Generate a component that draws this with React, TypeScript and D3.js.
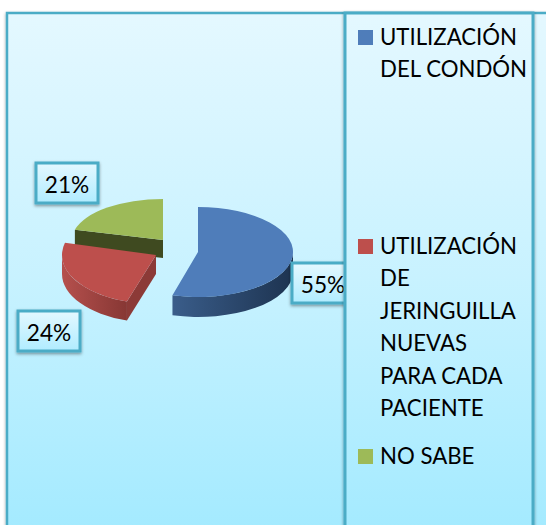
import React from "react";
import * as d3 from "d3";

const categories = ["UTILIZACIÓN DEL CONDÓN", "UTILIZACIÓN DE JERINGUILLA NUEVAS PARA CADA PACIENTE", "NO SABE"];
const values = [55, 24, 21];
const legendLines = [["UTILIZACIÓN", "DEL CONDÓN"], ["UTILIZACIÓN", "DE", "JERINGUILLA", "NUEVAS", "PARA CADA", "PACIENTE"], ["NO SABE"]];
const legendFirstBaselines = [45, 254, 464];
const topColors = ["#4f7dba", "#bd4f4c", "#9dba58"];
const wallFrom = ["#3a5d8a", "#b5504d", "#3f4a20"];
const wallTo = ["#1d3350", "#873734", "#3f4a20"];
const cutColors = ["#2b4769", "#8c3a37", "#3f4a20"];
// per-slice layout: apex position, radii, extrusion, perspective nudge of the lower cut
const sliceLayout = [
  { cx: 198, cy: 252, rx: 95, ry: 45, depth: 20, endNudge: -0.042 },
  { cx: 156, cy: 255, rx: 94, ry: 49, depth: 19, endNudge: 0 },
  { cx: 163, cy: 240, rx: 91, ry: 41, depth: 18, endNudge: 0 },
];
const labelBoxes = [
  { x: 292, y: 263, text: "55%" },
  { x: 18, y: 311, text: "24%" },
  { x: 36, y: 163, text: "21%" },
];

const FONT = "Lato, Carlito, sans-serif";
const TEXT_SQUEEZE = 0.945;
const BORDER = "#4bacc6";

export default function App() {
  const pieGen = d3.pie<number>().sort(null).startAngle(0).endAngle(2 * Math.PI);
  const arcs = pieGen(values);

  const ptOn = (i: number, a: number) => {
    const s = sliceLayout[i];
    return [s.cx + s.rx * Math.sin(a), s.cy - s.ry * Math.cos(a)];
  };
  const endOf = (i: number) => arcs[i].endAngle + sliceLayout[i].endNudge;

  const topPath = (i: number) => {
    const s = sliceLayout[i];
    const a = arcs[i];
    const [x0, y0] = ptOn(i, a.startAngle);
    const [x1, y1] = ptOn(i, endOf(i));
    const large = endOf(i) - a.startAngle > Math.PI ? 1 : 0;
    return `M${s.cx},${s.cy}L${x0},${y0}A${s.rx},${s.ry} 0 ${large} 1 ${x1},${y1}Z`;
  };

  const wallPath = (i: number) => {
    const s = sliceLayout[i];
    const from = Math.max(arcs[i].startAngle, Math.PI / 2);
    const to = Math.min(endOf(i), (3 * Math.PI) / 2);
    if (to <= from) return null;
    const [x0, y0] = ptOn(i, from);
    const [x1, y1] = ptOn(i, to);
    return `M${x0},${y0}A${s.rx},${s.ry} 0 0 1 ${x1},${y1}L${x1},${y1 + s.depth}A${s.rx},${s.ry} 0 0 0 ${x0},${y0 + s.depth}Z`;
  };

  const cutPath = (i: number, angle: number) => {
    const s = sliceLayout[i];
    const [x, y] = ptOn(i, angle);
    return `M${s.cx},${s.cy}L${x},${y}L${x},${y + s.depth}L${s.cx},${s.cy + s.depth}Z`;
  };

  const order = [2, 1, 0];

  return (
    <svg width={546} height={525} style={{ position: "absolute", left: 0, top: 0 }}>
      <defs>
        <linearGradient id="bg" x1="0" y1="0" x2="0" y2="1">
          <stop offset="0" stopColor="#e4f8ff" />
          <stop offset="0.5" stopColor="#c8f2ff" />
          <stop offset="1" stopColor="#a2eaff" />
        </linearGradient>
        <linearGradient id="lab" x1="0" y1="0" x2="0" y2="1">
          <stop offset="0" stopColor="#e4f8ff" />
          <stop offset="1" stopColor="#b0ecff" />
        </linearGradient>
        <filter id="sh" x="-20%" y="-20%" width="140%" height="140%">
          <feDropShadow dx="0" dy="1.5" stdDeviation="1.6" floodColor="#000" floodOpacity="0.4" />
        </filter>
        {values.map((_, i) => (
          <linearGradient key={i} id={`wall${i}`} x1="0" y1="0" x2="1" y2="0">
            <stop offset="0" stopColor={i === 0 ? wallFrom[i] : wallFrom[i]} />
            <stop offset="1" stopColor={wallTo[i]} />
          </linearGradient>
        ))}
      </defs>
      <rect width={546} height={525} fill="#fff" />
      <rect x={7} y={13} width={560} height={530} fill="url(#bg)" stroke={BORDER} strokeWidth={2.5} filter="url(#sh)" />
      {order.map((i) => {
        const a = arcs[i];
        const wall = wallPath(i);
        return (
          <g key={i}>
            {i !== 0 && <path d={cutPath(i, i === 2 ? a.startAngle : a.startAngle)} fill={cutColors[i]} />}
            {wall && <path d={wall} fill={`url(#wall${i})`} />}
            <path d={topPath(i)} fill={topColors[i]} />
          </g>
        );
      })}
      {labelBoxes.map((b, i) => (
        <g key={i}>
          <rect x={b.x} y={b.y} width={62} height={40} fill="url(#lab)" stroke={BORDER} strokeWidth={3} filter="url(#sh)" />
          <text transform={`translate(${b.x + 31},${b.y + 30}) scale(${TEXT_SQUEEZE},1)`} textAnchor="middle" fontFamily={FONT} fontSize={24} fill="#000">
            {b.text}
          </text>
        </g>
      ))}
      <rect x={345} y={13} width={188} height={530} fill="url(#bg)" stroke={BORDER} strokeWidth={3} filter="url(#sh)" />
      {legendLines.map((lines, i) => (
        <g key={categories[i]}>
          <rect x={358} y={legendFirstBaselines[i] - 15} width={15} height={15} fill={topColors[i]} />
          {lines.map((ln, j) => (
            <text key={j} transform={`translate(380,${legendFirstBaselines[i] + j * 32.4}) scale(${TEXT_SQUEEZE},1)`} fontFamily={FONT} fontSize={23.5} fill="#000">
              {ln}
            </text>
          ))}
        </g>
      ))}
    </svg>
  );
}
